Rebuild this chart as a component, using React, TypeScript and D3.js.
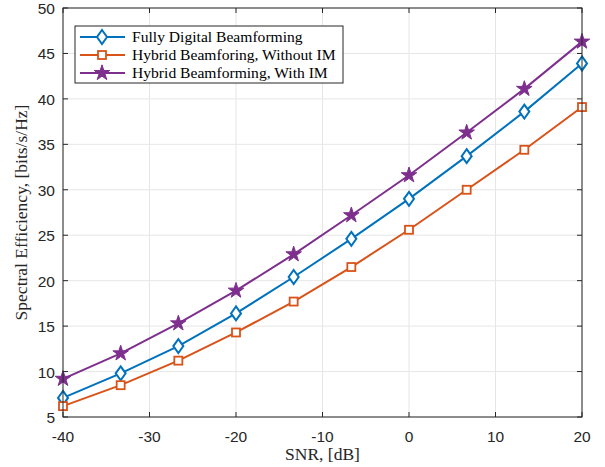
import React from "react";
import * as d3 from "d3";

const snr = [-40, -33.333, -26.667, -20, -13.333, -6.667, 0, 6.667, 13.333, 20];
const fullyDigital = [7.1, 9.8, 12.8, 16.4, 20.4, 24.6, 29.0, 33.7, 38.6, 43.9];
const hybridNoIM = [6.2, 8.5, 11.2, 14.3, 17.7, 21.5, 25.6, 30.0, 34.4, 39.1];
const hybridIM = [9.2, 12.0, 15.3, 18.9, 22.9, 27.2, 31.6, 36.3, 41.1, 46.3];
const xTicks = [-40, -30, -20, -10, 0, 10, 20];
const yTicks = [5, 10, 15, 20, 25, 30, 35, 40, 45, 50];
const seriesNames = [
  "Fully Digital Beamforming",
  "Hybrid Beamforing, Without IM",
  "Hybrid Beamforming, With IM",
];

const W = 605, H = 467;
const L = 63, R = 582, T = 8, B = 417;

function Marker({ kind, x, y, color }: { kind: string; x: number; y: number; color: string }) {
  if (kind === "diamond") {
    const w = 5, h = 7;
    return <path d={`M${x},${y - h}L${x + w},${y}L${x},${y + h}L${x - w},${y}Z`} fill="white" stroke={color} strokeWidth={2} />;
  }
  if (kind === "square") {
    const s = 4;
    return <rect x={x - s} y={y - s} width={2 * s} height={2 * s} fill="white" stroke={color} strokeWidth={1.8} />;
  }
  const star = d3.symbol(d3.symbolStar, 75)();
  return <path d={star || ""} transform={`translate(${x},${y})`} fill={color} stroke={color} strokeWidth={1} />;
}

export default function App() {
  const x = d3.scaleLinear().domain([-40, 20]).range([L, R]);
  const y = d3.scaleLinear().domain([5, 50]).range([B, T]);
  const series = [
    { name: seriesNames[0], data: fullyDigital, color: "#0072BD", kind: "diamond" },
    { name: seriesNames[1], data: hybridNoIM, color: "#D95319", kind: "square" },
    { name: seriesNames[2], data: hybridIM, color: "#7E2F8E", kind: "star" },
  ];
  const line = d3.line<number>().x((_, i) => x(snr[i])).y((d) => y(d));
  const axisColor = "#262626";
  const legX = 75, legY = 26, legW = 268, legH = 57;
  const serif = "'Liberation Serif', 'Times New Roman', serif";
  const sans = "'Liberation Sans', Arial, sans-serif";
  return (
    <svg width={W} height={H} style={{ position: "absolute", left: 0, top: 0, background: "white" }}>
      <rect x={0} y={0} width={W} height={H} fill="white" />
      {xTicks.map((t) => (
        <line key={"gx" + t} x1={x(t)} x2={x(t)} y1={T} y2={B} stroke="#e6e6e6" strokeWidth={1} />
      ))}
      {yTicks.map((t) => (
        <line key={"gy" + t} x1={L} x2={R} y1={y(t)} y2={y(t)} stroke="#e6e6e6" strokeWidth={1} />
      ))}
      {series.map((s) => (
        <path key={s.name} d={line(s.data) || ""} fill="none" stroke={s.color} strokeWidth={2} />
      ))}
      {series.map((s) =>
        s.data.map((v, i) => <Marker key={s.name + i} kind={s.kind} x={x(snr[i])} y={y(v)} color={s.color} />)
      )}
      <rect x={L} y={T} width={R - L} height={B - T} fill="none" stroke={axisColor} strokeWidth={1} />
      {xTicks.map((t) => (
        <g key={"tx" + t}>
          <line x1={x(t)} x2={x(t)} y1={B} y2={B - 5} stroke={axisColor} />
          <line x1={x(t)} x2={x(t)} y1={T} y2={T + 5} stroke={axisColor} />
          <text x={x(t)} y={442} textAnchor="middle" fontFamily={sans} fontSize={15.5} fill={axisColor}>
            {t}
          </text>
        </g>
      ))}
      {yTicks.map((t) => (
        <g key={"ty" + t}>
          <line x1={L} x2={L + 5} y1={y(t)} y2={y(t)} stroke={axisColor} />
          <line x1={R} x2={R - 5} y1={y(t)} y2={y(t)} stroke={axisColor} />
          <text x={L - 8} y={y(t) + 6} textAnchor="end" fontFamily={sans} fontSize={15.5} fill={axisColor}>
            {t}
          </text>
        </g>
      ))}
      <text x={(L + R) / 2} y={460} textAnchor="middle" fontFamily={serif} fontSize={17.5} fill={axisColor}>
        SNR, [dB]
      </text>
      <text transform={`translate(27,${(T + B) / 2}) rotate(-90)`} textAnchor="middle" fontFamily={serif} fontSize={17.5} fill={axisColor}>
        Spectral Efficiency, [bits/s/Hz]
      </text>
      <rect x={legX} y={legY} width={legW} height={legH} fill="white" stroke={axisColor} strokeWidth={1} />
      {series.map((s, i) => {
        const yy = legY + 11 + i * 18;
        return (
          <g key={"leg" + i}>
            <line x1={legX + 5} x2={legX + 50} y1={yy} y2={yy} stroke={s.color} strokeWidth={2} />
            <Marker kind={s.kind} x={legX + 27} y={yy} color={s.color} />
            <text x={legX + 57} y={yy + 5} fontFamily={serif} fontSize={15.6} fill="#000">
              {s.name}
            </text>
          </g>
        );
      })}
    </svg>
  );
}
